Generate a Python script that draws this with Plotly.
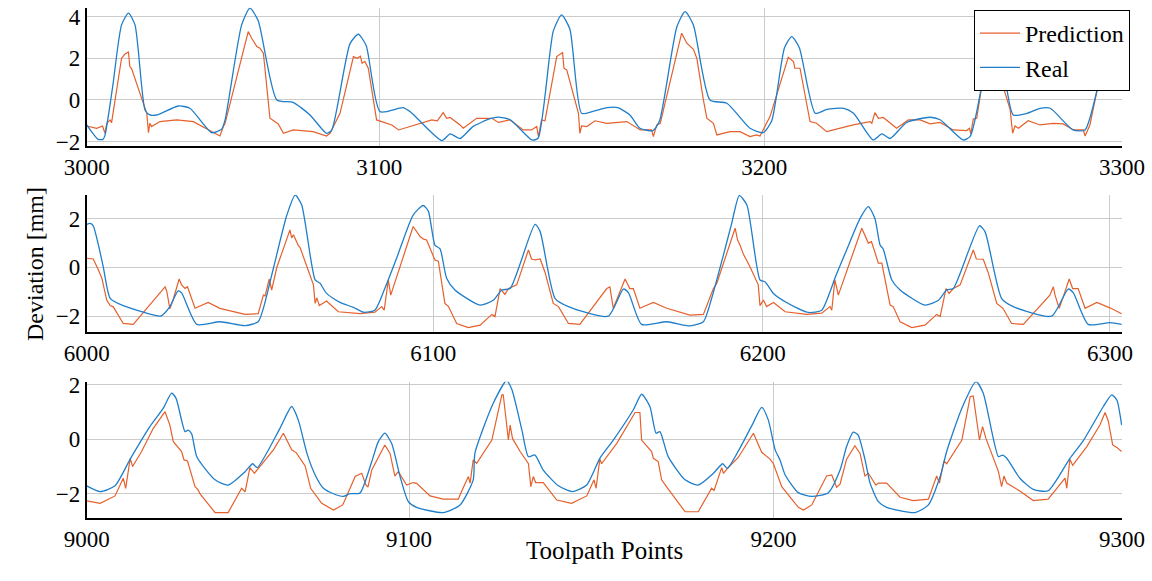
import plotly.graph_objects as go

# ---------------- Panel 1 (3000-3300) ----------------
p1_real_x = [3000.0, 3003.3, 3004.7, 3005.3, 3007.5, 3010.1, 3012.1, 3014.0, 3016.9, 3018.3, 3020.4, 3026.5, 3029.9,
             3036.2, 3039.1, 3040.1, 3044.9, 3047.3, 3049.7, 3055.1, 3059.8, 3064.7, 3069.5, 3071.0, 3076.3, 3078.7,
             3081.0, 3085.0, 3091.7, 3094.0, 3102.9, 3105.3, 3108.2, 3111.9, 3116.9, 3119.2, 3122.7, 3129.0, 3130.8,
             3135.2, 3137.6, 3140.0, 3143.4, 3146.7, 3150.8, 3153.9, 3157.4, 3160.3, 3164.1, 3166.0, 3171.0, 3173.4,
             3175.8, 3180.6, 3185.5, 3192.2, 3196.0, 3198.5, 3202.2, 3204.3, 3206.5, 3211.1, 3214.5, 3219.4, 3222.2,
             3227.9, 3230.4, 3232.8, 3237.6, 3244.4, 3247.3, 3254.0, 3256.0, 3259.8, 3262.3, 3264.7, 3266.1, 3268.5,
             3272.5, 3276.3, 3279.2, 3285.8, 3289.3, 3293.7, 3297.0, 3300.0]
p1_real_y = [-1.20, -1.89, -1.89, -1.70, 0.60, 3.60, 4.16, 3.60, -0.48, -0.72, -0.72, -0.29, -0.40,
             -1.57, -1.40, -0.96, 3.60, 4.40, 3.80, 0.00, -0.12, -0.72, -1.60, -1.45, 2.70, 3.15,
             2.60, -0.56, -0.37, -0.60, -1.95, -1.63, -1.85, -1.28, -0.90, -0.82, -0.95, -1.92, -1.84,
             3.30, 4.08, 3.40, -0.64, -0.55, -0.37, -0.37, -0.72, -1.36, -1.47, -1.00, 3.50, 4.24,
             3.60, 0.00, -0.16, -1.36, -1.57, -1.00, 2.50, 3.04, 2.50, -0.64, -0.45, -0.40, -0.64,
             -1.92, -1.63, -1.85, -1.08, -0.83, -0.95, -1.92, -1.75, 1.12, 4.15, 3.40, 1.12, -0.72,
             -0.64, -0.40, -0.40, -1.44, -1.44, 1.12, 3.20, 4.00]

p1_pred_x = [3000.0, 3002.9, 3004.6, 3005.3, 3005.8, 3006.8, 3007.2, 3010.1, 3011.1, 3012.1, 3012.5, 3013.0, 3017.4,
             3017.9, 3018.3, 3018.8, 3021.2, 3026.1, 3030.9, 3036.6, 3038.6, 3039.6, 3040.1, 3046.8, 3047.8, 3049.3,
             3050.2, 3051.2, 3053.1, 3054.5, 3055.5, 3057.0, 3059.9, 3065.6, 3068.6, 3069.5, 3070.5, 3073.4, 3077.3,
             3078.4, 3079.3, 3079.8, 3080.6, 3081.6, 3084.0, 3088.4, 3090.4, 3100.0, 3101.6, 3103.3, 3104.3, 3105.3,
             3108.2, 3109.1, 3113.0, 3117.4, 3119.3, 3122.7, 3126.5, 3128.9, 3130.4, 3130.9, 3131.8, 3132.8, 3136.2,
             3137.9, 3138.3, 3139.1, 3142.5, 3142.9, 3143.4, 3144.9, 3147.3, 3150.7, 3156.5, 3160.4, 3163.7, 3164.2,
             3165.2, 3166.2, 3172.4, 3173.9, 3175.8, 3176.8, 3178.7, 3179.7, 3181.6, 3182.6, 3186.4, 3189.3, 3192.2,
             3194.1, 3195.1, 3198.0, 3203.3, 3204.8, 3205.2, 3206.7, 3209.6, 3211.5, 3214.4, 3218.3, 3222.1, 3227.0,
             3227.5, 3228.4, 3229.4, 3230.8, 3234.7, 3238.1, 3241.5, 3244.4, 3247.3, 3251.1, 3255.0, 3255.8, 3256.2,
             3256.9, 3257.9, 3259.8, 3262.3, 3264.7, 3267.6, 3268.3, 3269.0, 3270.0, 3272.8, 3276.2, 3280.1, 3283.0,
             3285.9, 3288.8, 3289.3, 3290.7, 3293.6, 3296.5, 3300.0]
p1_pred_y = [-1.25, -1.36, -1.25, -1.60, -1.12, -0.96, -1.10, 2.00, 2.20, 2.30, 1.60, 1.50, -0.64,
             -1.57, -1.12, -1.28, -1.04, -0.96, -1.04, -1.57, -1.73, -1.28, -1.12, 3.28, 2.96, 2.56,
             2.48, 2.24, -0.88, -1.04, -1.15, -1.60, -1.44, -1.52, -1.68, -1.73, -1.60, -0.64, 2.08,
             2.00, 2.10, 1.76, 1.85, 1.52, -0.96, -1.20, -1.44, -0.96, -1.00, -0.61, -0.88, -0.84,
             -1.20, -1.36, -0.88, -0.88, -1.08, -0.96, -1.44, -1.44, -1.28, -1.76, -0.96, -1.00, 2.08,
             2.27, 1.52, 1.44, -0.64, -1.60, -1.25, -1.28, -1.00, -1.12, -1.04, -1.44, -1.44, -1.76,
             -1.20, -1.12, 3.20, 2.72, 2.43, 2.00, 0.00, -0.88, -1.12, -1.68, -1.52, -1.52, -1.76,
             -1.68, -1.73, -0.80, 2.05, 1.84, 1.52, 1.52, -1.04, -1.12, -1.52, -1.36, -1.20, -1.04,
             -1.12, -0.61, -0.88, -0.84, -1.36, -0.96, -0.96, -1.15, -1.08, -1.44, -1.47, -1.36, -1.64,
             -0.92, -0.88, 1.12, 3.20, 1.12, -0.48, -1.60, -1.25, -1.36, -1.00, -1.20, -1.12, -1.15,
             -1.44, -1.44, -1.73, -1.20, 1.12, 2.20, 2.50]

# ---------------- Panel 2 (6000-6300) ----------------
p2_real_x = [6000.0, 6001.0, 6001.9, 6003.4, 6004.8, 6006.8, 6010.6, 6021.2, 6022.0, 6024.1, 6026.5, 6027.5, 6031.9,
             6038.6, 6045.9, 6049.7, 6051.2, 6054.1, 6058.0, 6060.4, 6062.3, 6066.2, 6067.6, 6069.5, 6073.4, 6077.3,
             6080.2, 6083.5, 6086.4, 6089.8, 6094.6, 6097.5, 6099.0, 6100.9, 6102.4, 6104.3, 6106.7, 6114.0, 6117.8,
             6120.3, 6122.7, 6129.9, 6131.4, 6135.7, 6139.6, 6151.1, 6155.5, 6157.0, 6160.8, 6168.1, 6174.8, 6178.7,
             6181.1, 6184.5, 6186.9, 6189.1, 6191.3, 6195.1, 6196.6, 6199.0, 6202.8, 6209.1, 6213.0, 6215.4, 6216.8,
             6220.2, 6224.1, 6226.5, 6228.4, 6229.9, 6230.8, 6233.3, 6235.7, 6242.9, 6246.8, 6249.2, 6251.1, 6258.7,
             6260.3, 6265.1, 6268.5, 6279.6, 6284.4, 6285.9, 6290.2, 6296.5, 6299.9]
p2_real_y = [1.76, 1.80, 1.70, 0.91, 0.02, -1.27, -1.57, -2.00, -1.95, -1.61, -0.97, -1.05, -2.34,
             -2.23, -2.39, -2.23, -1.68, -0.04, 2.14, 2.96, 2.55, -0.52, -0.65, -1.07, -1.44, -1.64,
             -1.84, -1.76, -0.86, 0.37, 2.14, 2.53, 2.30, 0.91, 0.75, -0.45, -0.93, -1.55, -1.35,
             -0.93, -0.87, 1.76, 1.46, -1.27, -1.61, -2.00, -0.89, -1.05, -2.34, -2.23, -2.40, -2.23,
             -1.27, 0.50, 1.80, 2.94, 2.55, -0.52, -0.60, -1.07, -1.44, -1.85, -1.76, -1.00, -0.45,
             0.71, 2.00, 2.48, 2.00, 0.91, 0.75, -0.52, -0.93, -1.55, -1.35, -0.93, -0.87, 1.70,
             1.46, -1.27, -1.61, -2.00, -0.89, -1.05, -2.34, -2.27, -2.34]

p2_pred_x = [6000.0, 6001.9, 6003.4, 6004.4, 6005.8, 6006.8, 6007.7, 6010.6, 6013.5, 6021.7, 6022.7, 6023.2, 6024.1,
             6025.1, 6026.8, 6027.5, 6028.5, 6029.2, 6031.4, 6035.2, 6038.6, 6045.9, 6049.7, 6051.2, 6051.7, 6052.9,
             6053.6, 6055.1, 6058.9, 6059.4, 6059.9, 6061.3, 6061.8, 6065.7, 6066.2, 6066.7, 6067.4, 6069.5, 6072.9,
             6079.2, 6083.5, 6085.5, 6086.2, 6087.4, 6088.1, 6094.6, 6096.6, 6097.6, 6098.5, 6100.9, 6101.9, 6103.8,
             6104.8, 6107.2, 6110.6, 6114.0, 6117.4, 6118.3, 6119.8, 6121.2, 6122.2, 6124.6, 6128.0, 6128.9, 6129.9,
             6131.4, 6132.8, 6135.2, 6136.7, 6139.6, 6142.9, 6150.7, 6151.6, 6152.6, 6156.0, 6157.4, 6158.4, 6160.3,
             6164.2, 6168.1, 6174.8, 6178.7, 6180.1, 6181.6, 6182.6, 6187.9, 6188.6, 6189.3, 6190.3, 6192.2, 6194.6,
             6195.1, 6196.1, 6197.0, 6199.0, 6202.4, 6208.6, 6213.0, 6215.4, 6215.9, 6216.8, 6217.8, 6224.6, 6226.5,
             6227.4, 6228.4, 6229.4, 6230.4, 6232.8, 6233.7, 6235.7, 6239.1, 6242.9, 6246.3, 6247.3, 6249.0, 6249.9,
             6251.1, 6253.1, 6256.9, 6257.8, 6259.8, 6261.3, 6263.7, 6265.5, 6268.0, 6271.4, 6279.1, 6280.1, 6280.6,
             6281.8, 6283.0, 6284.7, 6285.7, 6287.3, 6289.3, 6292.7, 6296.5, 6299.9]
p2_pred_y = [0.37, 0.34, -0.11, -0.45, -1.34, -1.57, -1.62, -2.30, -2.34, -1.00, -0.80, -0.98, -1.70,
             -1.30, -0.48, -0.72, -0.87, -0.80, -1.68, -1.44, -1.68, -1.93, -1.90, -1.14, -1.17, -0.48,
             -0.93, 0.00, 1.53, 1.20, 1.33, 0.90, 0.82, -0.72, -1.48, -1.25, -1.57, -1.38, -1.82,
             -1.90, -1.84, -1.61, -1.76, -0.52, -1.14, 1.67, 1.26, 1.15, 1.12, 0.30, 0.25, -1.48,
             -1.60, -2.30, -2.47, -2.37, -1.93, -2.02, -0.87, -1.11, -0.87, -0.72, 0.71, 0.34, 0.30,
             0.34, -0.20, -1.48, -1.61, -2.30, -2.34, -0.87, -0.80, -1.68, -0.48, -0.87, -0.87, -1.68,
             -1.44, -1.68, -1.96, -1.93, -1.44, -0.87, -0.65, 1.60, 1.12, 0.91, 0.53, 0.02, -0.72,
             -1.57, -1.34, -1.61, -1.44, -1.82, -1.93, -1.88, -1.61, -1.76, -0.52, -1.14, 1.60, 0.99,
             1.05, 0.65, 0.17, 0.17, -1.55, -1.61, -2.23, -2.47, -2.37, -1.93, -2.02, -0.87, -1.07,
             -0.87, -0.72, 0.71, 0.34, 0.33, -0.25, -1.48, -1.68, -2.30, -2.34, -1.14, -0.80, -1.14,
             -1.68, -1.20, -0.48, -0.87, -0.87, -1.68, -1.44, -1.66, -1.90]

# ---------------- Panel 3 (9000-9300) ----------------
p3_real_x = [9000.0, 9003.9, 9008.2, 9012.6, 9018.3, 9022.2, 9024.6, 9025.9, 9028.5, 9029.4, 9030.4, 9031.9, 9037.2,
             9041.0, 9045.9, 9048.1, 9049.4, 9056.0, 9059.4, 9061.3, 9063.8, 9066.2, 9068.6, 9071.5, 9074.4, 9076.3,
             9079.2, 9082.6, 9084.5, 9086.4, 9088.4, 9090.8, 9093.2, 9095.6, 9103.3, 9108.2, 9112.0, 9112.5, 9117.8,
             9121.7, 9123.2, 9126.1, 9128.0, 9129.9, 9132.3, 9136.7, 9140.8, 9144.9, 9148.7, 9152.6, 9158.4, 9160.8,
             9163.2, 9165.0, 9166.1, 9168.5, 9173.4, 9177.2, 9181.6, 9184.3, 9185.6, 9192.7, 9195.6, 9197.5, 9199.5,
             9200.9, 9202.4, 9206.2, 9210.1, 9214.9, 9218.3, 9220.2, 9222.1, 9223.5, 9225.5, 9227.0, 9229.4, 9231.8,
             9240.0, 9243.9, 9247.3, 9249.2, 9253.6, 9257.7, 9259.8, 9264.2, 9265.4, 9266.6, 9270.4, 9274.3, 9278.6,
             9284.9, 9288.8, 9294.6, 9297.0, 9298.5, 9299.9]
p3_real_y = [-1.71, -1.92, -1.71, -0.73, 0.46, 1.14, 1.69, 1.50, 0.28, 0.33, 0.20, -0.64, -1.49,
             -1.68, -1.19, -0.90, -1.04, 0.40, 1.20, 0.71, -0.51, -1.31, -1.80, -2.00, -2.10, -2.00,
             -1.97, -0.82, -0.09, 0.22, -0.17, -1.37, -2.29, -2.50, -2.69, -2.41, -1.49, -0.51, 1.32,
             2.15, 1.82, 0.34, -0.64, -0.58, -1.13, -1.71, -1.92, -1.68, -0.70, -0.03, 1.08, 1.65,
             1.20, 0.22, 0.28, -0.64, -1.49, -1.68, -1.25, -0.90, -1.07, 0.49, 1.17, 0.71, -0.39,
             -0.76, -1.31, -1.96, -2.10, -1.96, -1.13, -0.27, 0.26, 0.16, -0.73, -1.61, -2.29, -2.50,
             -2.69, -2.41, -1.37, -0.45, 1.14, 2.11, 1.69, -0.64, -0.58, -0.70, -1.43, -1.84, -1.89,
             -0.70, -0.05, 1.20, 1.63, 1.44, 0.52]

p3_pred_x = [9000.0, 9003.9, 9008.2, 9010.6, 9011.3, 9012.6, 9013.3, 9015.9, 9019.3, 9022.7, 9024.1, 9025.1, 9027.5,
             9028.2, 9029.2, 9031.4, 9032.3, 9032.8, 9037.2, 9041.0, 9044.9, 9045.9, 9047.3, 9048.6, 9054.1, 9057.0,
             9059.4, 9060.7, 9063.3, 9064.9, 9068.1, 9071.5, 9074.2, 9077.8, 9079.7, 9080.9, 9081.5, 9082.6, 9086.4,
             9087.9, 9089.3, 9090.3, 9092.7, 9094.6, 9095.6, 9099.5, 9103.3, 9107.7, 9108.2, 9110.6, 9111.1, 9112.0,
             9113.0, 9117.4, 9120.3, 9120.7, 9122.2, 9122.7, 9123.4, 9125.6, 9128.0, 9128.7, 9129.4, 9130.1, 9132.3,
             9136.2, 9140.5, 9144.9, 9147.0, 9147.6, 9148.7, 9149.2, 9153.6, 9158.9, 9160.3, 9160.8, 9161.8, 9163.7,
             9164.2, 9165.6, 9166.6, 9168.1, 9173.4, 9177.2, 9181.1, 9181.8, 9184.0, 9184.5, 9185.5, 9188.8, 9193.2,
             9195.1, 9195.6, 9198.0, 9199.0, 9201.4, 9206.2, 9207.7, 9210.1, 9214.4, 9215.9, 9217.3, 9218.3, 9220.2,
             9222.6, 9224.1, 9225.5, 9226.5, 9228.7, 9229.4, 9231.8, 9235.7, 9239.5, 9243.9, 9246.3, 9247.1, 9248.4,
             9249.2, 9253.6, 9256.0, 9256.9, 9258.7, 9259.6, 9260.6, 9264.2, 9265.1, 9265.8, 9266.6, 9270.4, 9274.3,
             9278.6, 9283.5, 9284.0, 9284.9, 9285.7, 9289.8, 9293.6, 9295.1, 9296.0, 9297.3, 9298.5, 9299.9]
p3_pred_y = [-2.26, -2.35, -2.08, -1.43, -1.80, -0.70, -1.00, -0.45, 0.40, 1.01, 0.52, -0.09, -0.45,
             -0.76, -0.80, -1.74, -1.86, -2.00, -2.69, -2.69, -1.80, -1.93, -1.04, -1.25, -0.39, 0.22,
             -0.39, -0.49, -0.98, -1.80, -2.35, -2.60, -2.41, -1.37, -1.25, -1.68, -1.76, -1.13, -0.21,
             -0.52, -1.35, -1.19, -1.68, -1.59, -1.62, -2.08, -2.20, -2.20, -2.04, -1.37, -1.61, -0.76,
             -0.88, -0.03, 1.63, 1.63, -0.03, 0.52, 0.02, -0.45, -0.90, -1.74, -1.37, -1.59, -1.59,
             -2.23, -2.35, -2.08, -1.49, -1.80, -0.73, -0.90, -0.15, 0.98, 0.98, -0.03, -0.18, -0.45,
             -0.70, -0.82, -1.49, -1.76, -2.66, -2.66, -1.80, -1.88, -1.04, -1.25, -1.10, -0.67, 0.22,
             -0.39, -0.48, -0.73, -0.90, -1.74, -2.50, -2.60, -2.41, -1.35, -1.31, -1.76, -1.65, -0.73,
             -0.24, -0.52, -1.35, -1.25, -1.68, -1.61, -1.61, -2.13, -2.25, -2.20, -1.35, -1.61, -0.80,
             -0.90, -0.03, 1.56, 1.59, -0.03, 0.46, 0.02, -1.19, -1.74, -1.35, -1.61, -1.90, -2.25,
             -2.20, -1.43, -1.80, -0.73, -0.96, -0.27, 0.52, 0.98, 0.68, -0.21, -0.30, -0.45]

# tick positions and labels (as placed on the reference axes)
p1_tickvals = [3000, 3084.8, 3196.3, 3300]
p1_ticktext = ["3000", "3100", "3200", "3300"]
p2_tickvals = [6000, 6100.4, 6195.9, 6296.5]
p2_ticktext = ["6000", "6100", "6200", "6300"]
p3_tickvals = [9000, 9093.4, 9199.0, 9300]
p3_ticktext = ["9000", "9100", "9200", "9300"]

x_ranges = [[3000, 3300], [6000, 6300], [9000, 9300]]
y_ranges = [[-2.21, 4.42], [-2.65, 2.96], [-2.89, 2.11]]
y_ticks = [[-2, 0, 2, 4], [-2, 0, 2], [-2, 0, 2]]

PRED_COLOR = "#e5602c"
REAL_COLOR = "#1f7ec9"
FONT = "Liberation Serif, DejaVu Serif, serif"
W, H = 1152, 581

panels = [
    (p1_pred_x, p1_pred_y, p1_real_x, p1_real_y, p1_tickvals, p1_ticktext),
    (p2_pred_x, p2_pred_y, p2_real_x, p2_real_y, p2_tickvals, p2_ticktext),
    (p3_pred_x, p3_pred_y, p3_real_x, p3_real_y, p3_tickvals, p3_ticktext),
]
# pixel boxes (top, bottom) of each panel
boxes = [(7.8, 146.0), (195.0, 332.0), (381.7, 518.0)]
x_left, x_right = 86.7, 1122.0

fig = go.Figure()
layout = dict(
    width=W, height=H,
    margin=dict(l=0, r=0, t=0, b=0, autoexpand=False),
    paper_bgcolor="white", plot_bgcolor="white",
    font=dict(family=FONT, size=22, color="black"),
    showlegend=True,
    legend=dict(x=1130 / W, y=1 - 10 / H, xanchor="right", yanchor="top",
                bgcolor="white", bordercolor="black", borderwidth=1,
                font=dict(family=FONT, size=24), tracegroupgap=0, itemwidth=40),
)

for i, (px_, py_, rx_, ry_, tv, tt) in enumerate(panels):
    n = "" if i == 0 else str(i + 1)
    xa, ya = "x" + n, "y" + n
    fig.add_trace(go.Scatter(x=px_, y=py_, mode="lines", name="Prediction",
                             line=dict(color=PRED_COLOR, width=1.2),
                             xaxis=xa, yaxis=ya, showlegend=(i == 0), legendgroup="pred"))
    fig.add_trace(go.Scatter(x=rx_, y=ry_, mode="lines", name="Real",
                             line=dict(color=REAL_COLOR, width=1.3, shape="spline", smoothing=0.6),
                             xaxis=xa, yaxis=ya, showlegend=(i == 0), legendgroup="real"))
    top, bot = boxes[i]
    layout["xaxis" + n] = dict(
        domain=[x_left / W, x_right / W], range=x_ranges[i], anchor=ya,
        tickmode="array", tickvals=tv, ticktext=tt,
        showgrid=True, gridcolor="#cbcbcb", gridwidth=1,
        showline=True, linecolor="black", linewidth=1.5,
        ticks="", zeroline=False, automargin=False,
        tickfont=dict(family=FONT, size=23),
    )
    layout["yaxis" + n] = dict(
        domain=[1 - bot / H, 1 - top / H], range=y_ranges[i], anchor=xa,
        tickmode="array", tickvals=y_ticks[i],
        showgrid=True, gridcolor="#cbcbcb", gridwidth=1,
        showline=True, linecolor="black", linewidth=1.5,
        ticks="", zeroline=False, automargin=False,
        tickfont=dict(family=FONT, size=23),
    )

layout["annotations"] = [
    dict(text="Deviation [mm]", x=20 / W, y=1 - 264 / H, xref="paper", yref="paper",
         textangle=-90, showarrow=False, font=dict(family=FONT, size=24)),
    dict(text="Toolpath Points", x=604 / W, y=1 - 566 / H, xref="paper", yref="paper",
         showarrow=False, font=dict(family=FONT, size=25)),
]
fig.update_layout(**layout)
fig.write_html("out.html")
